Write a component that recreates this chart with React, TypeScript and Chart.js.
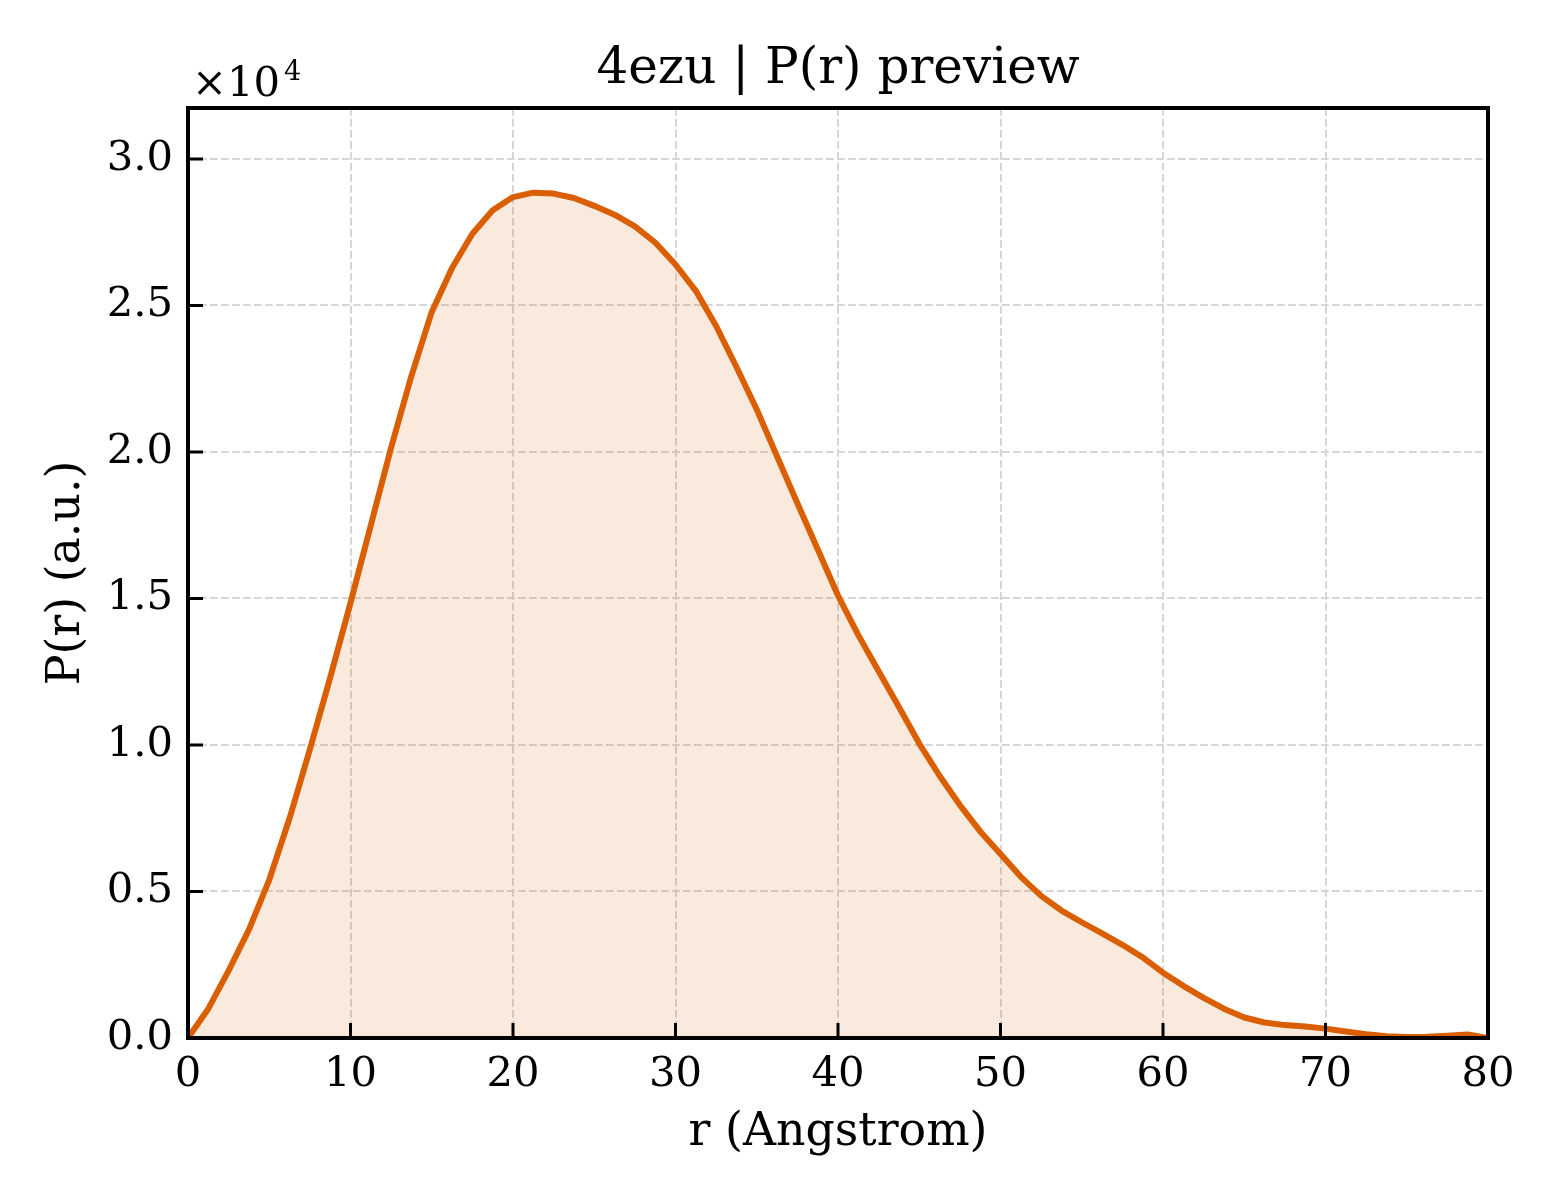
import { useEffect, useRef } from 'react';
import { Chart, registerables } from 'chart.js';

Chart.register(...registerables);

// r values (Angstrom), sampled every 1.25
const rValues: number[] = [
  0, 1.25, 2.5, 3.75, 5, 6.25, 7.5, 8.75, 10, 11.25, 12.5, 13.75, 15, 16.25, 17.5, 18.75,
  20, 21.25, 22.5, 23.75, 25, 26.25, 27.5, 28.75, 30, 31.25, 32.5, 33.75, 35, 36.25, 37.5, 38.75,
  40, 41.25, 42.5, 43.75, 45, 46.25, 47.5, 48.75, 50, 51.25, 52.5, 53.75, 55, 56.25, 57.5, 58.75,
  60, 61.25, 62.5, 63.75, 65, 66.25, 67.5, 68.75, 70, 71.25, 72.5, 73.75, 75, 76.25, 77.5, 78.75, 80,
];

// P(r) in units of 1e4
const prValues: number[] = [
  0.0, 0.1, 0.23, 0.37, 0.54, 0.75, 0.985, 1.23, 1.485, 1.75, 2.015, 2.26, 2.478, 2.628, 2.745, 2.825,
  2.87, 2.885, 2.882, 2.867, 2.84, 2.81, 2.77, 2.715, 2.64, 2.55, 2.43, 2.29, 2.145, 1.985, 1.825, 1.668,
  1.51, 1.375, 1.252, 1.13, 1.005, 0.895, 0.795, 0.705, 0.628, 0.55, 0.485, 0.435, 0.395, 0.357, 0.318, 0.275,
  0.223, 0.178, 0.137, 0.1, 0.07, 0.053, 0.044, 0.039, 0.032, 0.022, 0.013, 0.006, 0.003, 0.004, 0.008, 0.012, 0.0,
];

const xTicks: number[] = [0, 10, 20, 30, 40, 50, 60, 70, 80];
const yTicks: number[] = [0, 0.5, 1.0, 1.5, 2.0, 2.5, 3.0];

const TITLE = '4ezu | P(r) preview';
const SERIF = '"DejaVu Serif", serif';
const LINE = '#d95f02';

const decorations = {
  id: 'decorations',
  afterDatasetsDraw(chart: any) {
    const { ctx, chartArea: a, scales } = chart;
    ctx.save();
    ctx.strokeStyle = '#000';
    ctx.lineWidth = 3;
    ctx.beginPath();
    xTicks.forEach((v) => {
      const px = scales.x.getPixelForValue(v);
      ctx.moveTo(px, a.bottom);
      ctx.lineTo(px, a.bottom - 15);
    });
    yTicks.forEach((v) => {
      const py = scales.y.getPixelForValue(v);
      ctx.moveTo(a.left, py);
      ctx.lineTo(a.left + 15, py);
    });
    ctx.stroke();

    // frame
    ctx.lineWidth = 4;
    ctx.strokeRect(a.left, a.top, a.right - a.left, a.bottom - a.top);

    ctx.fillStyle = '#000';
    ctx.textBaseline = 'alphabetic';

    // title, centred over the plot area
    ctx.textAlign = 'center';
    ctx.font = `50px ${SERIF}`;
    ctx.fillText(TITLE, (a.left + a.right) / 2, a.top - 25);

    // offset text
    ctx.textAlign = 'left';
    ctx.font = `41.7px ${SERIF}`;
    ctx.fillText('×10', a.left + 4, a.top - 12);
    const w = ctx.measureText('×10').width;
    ctx.font = `27px ${SERIF}`;
    ctx.fillText('4', a.left + 4 + w + 4, a.top - 28);
    ctx.restore();
  },
};

export default function App() {
  const canvasRef = useRef<HTMLCanvasElement | null>(null);

  useEffect(() => {
    document.body.style.margin = '0';
    if (!canvasRef.current) return;

    const chart = new Chart(canvasRef.current, {
      type: 'line',
      data: {
        datasets: [
          {
            label: 'P(r)',
            data: rValues.map((r, i) => ({ x: r, y: prValues[i] })),
            borderColor: LINE,
            backgroundColor: 'rgba(217, 95, 2, 0.13)',
            borderWidth: 6,
            borderJoinStyle: 'round',
            fill: 'origin',
            tension: 0,
            pointRadius: 0,
          },
        ],
      },
      options: {
        animation: false,
        responsive: false,
        devicePixelRatio: 1,
        layout: { padding: { left: 0, right: 72, top: 108, bottom: 0 } },
        plugins: {
          legend: { display: false },
          tooltip: { enabled: false },
          title: { display: false },
        },
        scales: {
          x: {
            type: 'linear',
            min: 0,
            max: 80,
            afterFit: (scale: any) => {
              scale.height = 162;
            },
            ticks: {
              stepSize: 10,
              color: '#000',
              padding: 12,
              font: { family: SERIF, size: 41.7 },
            },
            grid: {
              color: '#d6d6d6',
              lineWidth: 2,
              drawTicks: false,
            },
            border: { display: false, dash: [7.7, 3.3] },
            title: {
              display: true,
              text: 'r (Angstrom)',
              color: '#000',
              font: { family: SERIF, size: 45.8, lineHeight: 1.2 },
              padding: { top: 0, bottom: 39 },
            },
          },
          y: {
            type: 'linear',
            min: 0,
            max: 3.174,
            afterFit: (scale: any) => {
              scale.width = 188;
            },
            ticks: {
              stepSize: 0.5,
              includeBounds: false,
              color: '#000',
              padding: 15,
              font: { family: SERIF, size: 41.7 },
              callback: (v: any) => Number(v).toFixed(1),
            },
            grid: {
              color: '#d6d6d6',
              lineWidth: 2,
              drawTicks: false,
            },
            border: { display: false, dash: [7.7, 3.3] },
            title: {
              display: true,
              text: 'P(r) (a.u.)',
              color: '#000',
              font: { family: SERIF, size: 45.8, lineHeight: 1.2 },
              padding: { top: 40, bottom: 0 },
            },
          },
        },
      },
      plugins: [decorations],
    });

    return () => {
      chart.destroy();
    };
  }, []);

  return (
    <div style={{ width: 1560, height: 1200, background: '#fff' }}>
      <canvas ref={canvasRef} width={1560} height={1200} style={{ display: 'block' }} />
    </div>
  );
}
